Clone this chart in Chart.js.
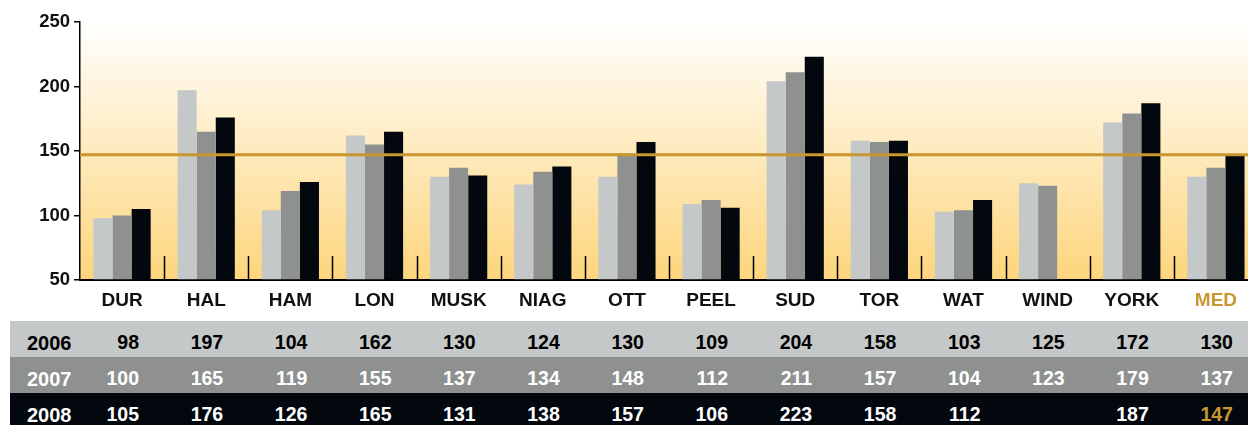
<!DOCTYPE html>
<html>
<head>
<meta charset="utf-8">
<script src="https://cdn.jsdelivr.net/npm/chart.js@4/dist/chart.umd.min.js"></script>
<style>
  html, body { margin: 0; padding: 0; background: #fff; }
  body { width: 1248px; height: 425px; overflow: hidden; position: relative;
         font-family: "Liberation Sans", Arial, sans-serif; font-weight: bold; }
  #wrap { position: absolute; left: 0; top: 0; width: 1260px; height: 320px; }
  .row { position: absolute; left: 10px; width: 1250px; }
  .cell { position: absolute; top: 0; height: 42px; line-height: 42px; white-space: nowrap; }
  .year { font-size: 20px; top: 1px; }
  .val { font-size: 19.5px; width: 60px; text-align: right; }
</style>
</head>
<body>
<div id="wrap"><canvas id="chart" width="1260" height="320"></canvas></div>
<div id="table"></div>
<script>
// Data
const categories = ['DUR', 'HAL', 'HAM', 'LON', 'MUSK', 'NIAG', 'OTT', 'PEEL', 'SUD', 'TOR', 'WAT', 'WIND', 'YORK', 'MED'];
const years = ['2006', '2007', '2008'];
const values2006 = [98, 197, 104, 162, 130, 124, 130, 109, 204, 158, 103, 125, 172, 130];
const values2007 = [100, 165, 119, 155, 137, 134, 148, 112, 211, 157, 104, 123, 179, 137];
const values2008 = [105, 176, 126, 165, 131, 138, 157, 106, 223, 158, 112, null, 187, 147];
const medianLine = 147;
const yTicks = [50, 100, 150, 200, 250];

const gold = '#c9962f';
const barColors = ['#c4c8c8', '#8e9190', '#03080f'];
const rowText = ['#000', '#fff', '#fff'];

Chart.defaults.font.family = '"Liberation Sans", Arial, sans-serif';

// Gradient background in the plot area
const backgroundPlugin = {
  id: 'plotBackground',
  beforeDraw(chart) {
    const { ctx, chartArea: a } = chart;
    const g = ctx.createLinearGradient(0, a.top, 0, a.bottom);
    g.addColorStop(0, '#ffffff');
    g.addColorStop(1, '#fdd57c');
    ctx.save();
    ctx.fillStyle = g;
    ctx.fillRect(a.left, a.top, a.right - a.left, a.bottom - a.top);
    ctx.restore();
  }
};

// Short separators between categories and the median line
const overlayPlugin = {
  id: 'overlay',
  afterDatasetsDraw(chart) {
    const { ctx, chartArea: a, scales: { x, y } } = chart;
    ctx.save();
    ctx.strokeStyle = '#000';
    ctx.lineWidth = 1.5;
    for (let i = 1; i < categories.length; i++) {
      const px = Math.round((x.getPixelForValue(i - 1) + x.getPixelForValue(i)) / 2) + 0.5;
      ctx.beginPath();
      ctx.moveTo(px, a.bottom - 24);
      ctx.lineTo(px, a.bottom);
      ctx.stroke();
    }
    const py = y.getPixelForValue(medianLine);
    ctx.strokeStyle = gold;
    ctx.lineWidth = 3;
    ctx.beginPath();
    ctx.moveTo(a.left, py);
    ctx.lineTo(a.right, py);
    ctx.stroke();
    ctx.restore();
  }
};

const ctx = document.getElementById('chart').getContext('2d');
const chart = new Chart(ctx, {
  type: 'bar',
  data: {
    labels: categories,
    datasets: [values2006, values2007, values2008].map((d, i) => ({
      label: years[i],
      data: d,
      backgroundColor: barColors[i],
      borderWidth: 0,
      base: 50,
      categoryPercentage: 0.68,
      barPercentage: 1.0
    }))
  },
  options: {
    responsive: false,
    animation: false,
    layout: { padding: { top: 22, right: 2, left: 0, bottom: 0 } },
    plugins: {
      legend: { display: false },
      tooltip: { enabled: false }
    },
    scales: {
      x: {
        grid: { display: true, drawOnChartArea: false, drawTicks: false },
        border: { display: true, color: '#000', width: 2 },
        ticks: {
          padding: 9,
          color: categories.map(c => c === 'MED' ? gold : '#111'),
          font: { size: 19, weight: 'bold' }
        },
        afterFit(scale) { scale.height = 40; }
      },
      y: {
        min: 50,
        max: 250,
        afterBuildTicks(scale) { scale.ticks = yTicks.map(v => ({ value: v })); },
        grid: { display: true, drawOnChartArea: false, drawTicks: true, tickLength: 6, color: '#000', lineWidth: 1.5 },
        border: { display: true, color: '#000', width: 1.5 },
        ticks: {
          padding: 4,
          color: '#111',
          font: { size: 18.5, weight: 'bold' }
        },
        afterFit(scale) { scale.width = 80; }
      }
    }
  },
  plugins: [backgroundPlugin, overlayPlugin]
});

// Data table under the chart, columns lined up with the category centres
function buildTable() {
  const table = document.getElementById('table');
  table.innerHTML = '';
  const rows = [values2006, values2007, values2008];
  const rowTop = [321, 357, 393];
  const rowHeight = [36, 36, 32];
  rows.forEach(function (vals, r) {
    const row = document.createElement('div');
    row.className = 'row';
    row.style.top = rowTop[r] + 'px';
    row.style.height = rowHeight[r] + 'px';
    row.style.background = barColors[r];
    row.style.color = rowText[r];

    const yl = document.createElement('div');
    yl.className = 'cell year';
    yl.style.left = '17px';
    yl.textContent = years[r];
    row.appendChild(yl);

    vals.forEach(function (v, i) {
      if (v === null) return;
      const cx = chart.scales.x.getPixelForValue(i);
      const cell = document.createElement('div');
      cell.className = 'cell val';
      cell.style.left = (cx + 17 - 60 - 10) + 'px';
      cell.textContent = v;
      if (r === 2 && categories[i] === 'MED') cell.style.color = gold;
      row.appendChild(cell);
    });
    table.appendChild(row);
  });
}
buildTable();
</script>
</body>
</html>
